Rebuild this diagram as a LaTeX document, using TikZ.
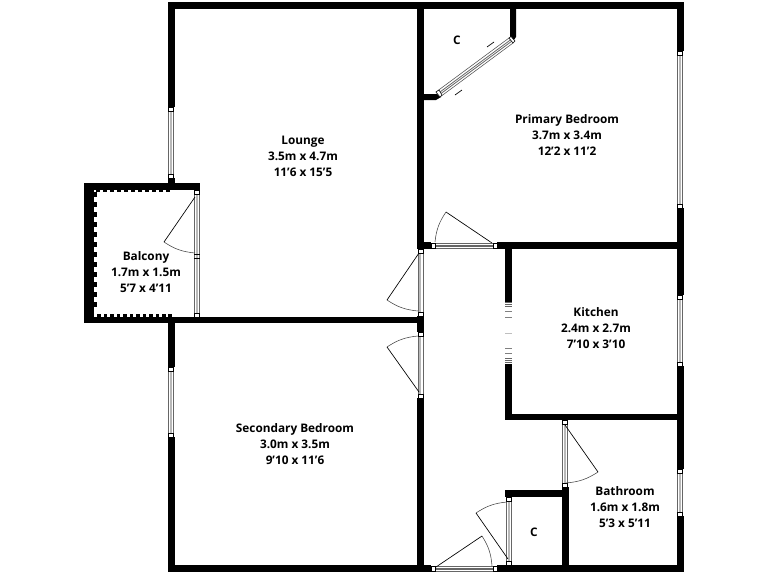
\documentclass[tikz,border=0pt]{standalone}
\usepackage{fontspec}
\setmainfont{Open Sans}
\tikzset{
  wall/.style={fill=black,draw=none},
  winfill/.style={fill=white,draw=black!60,line width=0.4pt},
  pane/.style={fill=black!28,draw=none},
  sq/.style={fill=white,draw=black,line width=0.4pt},
  leaf/.style={draw=black,line width=0.5pt},
  swing/.style={draw=black!75,line width=0.4pt},
  room/.style={align=center,font=\fontsize{8.85pt}{12pt}\selectfont\bfseries,inner sep=0pt,text=black},
}
\newcommand{\vwin}[3]{% x left, y1, y2 ; width 6
  \fill[white] (#1,#2) rectangle ++(6,#3-#2);
  \draw[winfill] (#1+.5,#2+4) rectangle (#1+5.5,#3-4);
  \fill[pane] (#1+2,#2+4) rectangle (#1+4,#3-4);
  \draw[sq] (#1+.5,#2) rectangle (#1+5.5,#2+4);
  \draw[sq] (#1+.5,#3-4) rectangle (#1+5.5,#3);
}
\newcommand{\hwin}[3]{% y top, x1, x2
  \fill[white] (#2,#1) rectangle (#3,#1+6);
  \draw[winfill] (#2+4,#1+.5) rectangle (#3-4,#1+5.5);
  \draw[black!60,line width=0.4pt] (#2+4,#1+2.3)--(#3-4,#1+2.3) (#2+4,#1+3.7)--(#3-4,#1+3.7);
  \draw[sq] (#2,#1+.5) rectangle (#2+4,#1+5.5);
  \draw[sq] (#3-4,#1+.5) rectangle (#3,#1+5.5);
}
\begin{document}
\begin{tikzpicture}[x=0.75pt,y=-0.75pt]
\useasboundingbox (0,0) rectangle (768,576);
\fill[white] (0,0) rectangle (768,576);
% outer walls
\fill[wall] (168,2) rectangle (684,8.5);
\fill[wall] (168,2) rectangle (174.5,107);
\fill[wall] (168,178) rectangle (174.5,190);
\fill[wall] (84,183) rectangle (200,190);
\fill[wall] (84,183) rectangle (94,323);
\fill[wall] (84,317) rectangle (423.7,323.3);
\fill[wall] (168,323) rectangle (174.5,367);
\fill[wall] (168,437) rectangle (174.5,571.5);
\fill[wall] (168,565) rectangle (431,571.5);
\fill[wall] (497,565) rectangle (684,571.5);
\fill[wall] (676.5,2) rectangle (683.5,51);
\fill[wall] (676.5,208) rectangle (683.5,295);
\fill[wall] (676.5,366) rectangle (683.5,469);
\fill[wall] (676.5,516) rectangle (683.5,571.5);
% inner walls
\fill[wall] (417,2) rectangle (423.7,249);
\fill[wall] (417,316) rectangle (423.7,332);
\fill[wall] (417,398) rectangle (423.7,571);
\fill[wall] (417,242) rectangle (431,249);
\fill[wall] (497,242) rectangle (683,249);
\fill[wall] (505,249) rectangle (512,302);
\fill[wall] (505,364) rectangle (512,420);
\fill[wall] (505,414) rectangle (683,420);
\fill[wall] (562,487) rectangle (568.5,571);
\fill[wall] (505,490) rectangle (568.5,497);
% closet walls
\fill[wall] (510,2) -- (516,2) -- (516,37) -- (511,44) -- (510,43) -- cycle;
\fill[wall] (423,94) -- (438,94) -- (441,97) -- (436,100) -- (423,100) -- cycle;
% balcony teeth
\foreach \y in {192,202,212,222,232,242,252,262,272,282,292,302}{\fill[wall] (94,\y) rectangle (97,\y+5);}
\foreach \x in {96,103,110,117,124,131,138,145,152,159,166}{\fill[wall] (\x,190) rectangle (\x+4,191.5);}
\foreach \x in {97,103.5,110,116.5,123,129.5,136,142.5,149,155.5,162,168}{\fill[wall] (\x,313.5) rectangle (\x+3.5,317);}
% windows
\vwin{168}{107}{178}
\vwin{168}{367}{437}
\vwin{194}{190}{317}
\fill[wall] (194,254) rectangle (200,255);
\fill[wall] (194,258) rectangle (200,259);
\vwin{677}{51}{208}
\vwin{677}{295}{366}
\vwin{677}{469}{516}
\vwin{417.3}{249}{316}
\vwin{417.3}{332}{398}
\vwin{562}{420}{487}
\vwin{506}{497}{565}
\hwin{243}{431}{497}
\hwin{566}{431}{497}
% kitchen opening
\foreach \y/\c in {302/60,304/60,306/60,311/50,317/50,333/25,348/50,353/50,358/60,360/60,362/60}{\draw[black!\c,line width=0.6pt] (505,\y)--(512,\y);}
% door leaves
\coordinate (h1) at (492,243); \coordinate (t1) at (446,212);
\draw[leaf] (h1)--(t1); \draw[swing] (t1) to[bend right=14] (435,242);
\coordinate (h2) at (419,253); \coordinate (t2) at (387,300);
\draw[leaf] (h2)--(t2); \draw[swing] (t2) to[bend right=14] (418,311);
\coordinate (h3) at (419,392); \coordinate (t3) at (387,347);
\draw[leaf] (h3)--(t3); \draw[swing] (t3) to[bend left=14] (418,336);
\coordinate (h4) at (195,197); \coordinate (t4) at (164,242);
\draw[leaf] (h4)--(t4); \draw[swing] (t4) to[bend right=14] (195,253);
\coordinate (h5) at (565,425); \coordinate (t5) at (598,472);
\draw[leaf] (h5)--(t5); \draw[swing] (t5) to[bend left=14] (566,483);
\coordinate (h6) at (508,559); \coordinate (t6) at (476,513);
\draw[leaf] (h6)--(t6); \draw[swing] (t6) to[bend left=14] (507,502);
\coordinate (h7) at (436,567); \coordinate (t7) at (482,536);
\draw[leaf] (h7)--(t7); \draw[swing] (t7) to[bend left=14] (492,566);
% sliding door
\draw[draw=black!70,fill=white,line width=0.4pt] (436,92) -- (509,38) -- (513,43) -- (440,97) -- cycle;
\draw[black!60,line width=0.6pt] (438,93.5)--(511,39.5);
\draw[black!60,line width=0.6pt] (439,95)--(512,41);
\draw[sq] (436,92)--(439,90)--(442,95)--(440,97)--cycle;
\draw[sq] (509,38)--(511,36.5)--(515,41)--(513,43)--cycle;
\draw[black,line width=0.5pt] (487,47)--(494,42);
\draw[black,line width=0.5pt] (455,95)--(462,90);
% labels
\node[room] (lounge) at (303,156) {Lounge\\3.5m x 4.7m\\11'6 x 15'5};
\node[room] (primary) at (567,135) {Primary Bedroom\\3.7m x 3.4m\\12'2 x 11'2};
\node[room] (balcony) at (146,272) {Balcony\\1.7m x 1.5m\\5'7 x 4'11};
\node[room] (kitchen) at (596,328) {Kitchen\\2.4m x 2.7m\\7'10 x 3'10};
\node[room] (second) at (295,444) {Secondary Bedroom\\3.0m x 3.5m\\9'10 x 11'6};
\node[room] (bath) at (625,507) {Bathroom\\1.6m x 1.8m\\5'3 x 5'11};
\node[room] (c1) at (457,40) {C};
\node[room] (c2) at (534,532) {C};
\end{tikzpicture}
\end{document}
